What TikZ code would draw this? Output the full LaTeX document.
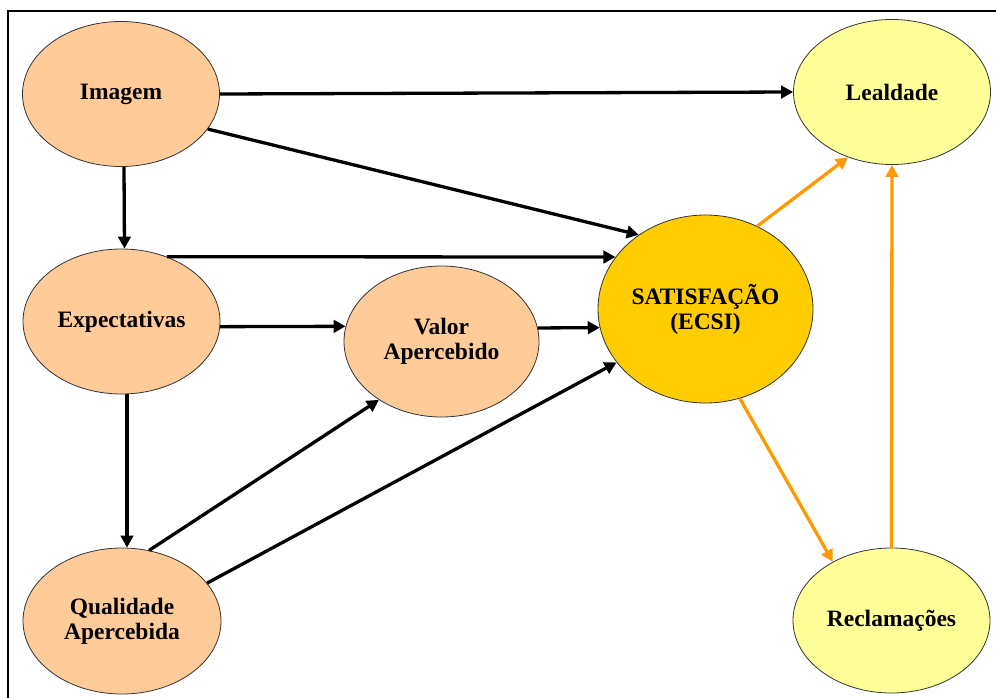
\documentclass[tikz,border=0pt]{standalone}
\usepackage{fontspec}
\setmainfont{Liberation Serif}
\usepackage{xcolor}
\usetikzlibrary{arrows.meta,shapes.geometric}
\definecolor{peach}{HTML}{FFCC99}
\definecolor{paleyellow}{HTML}{FFFF99}
\definecolor{gold}{HTML}{FFCC00}
\definecolor{flow}{HTML}{FF9900}

\begin{document}
\begin{tikzpicture}[x=1pt,y=-1pt,font=\fontsize{23.5}{25}\selectfont\bfseries,
  latent/.style={ellipse,draw=black!80,line width=0.8pt,inner sep=0pt,align=center,
    minimum width=197pt,minimum height=145pt},
  arr/.style={line width=3.3pt,-{Triangle[length=12pt,width=12.5pt]}},
  orarr/.style={arr,draw=flow}]
\useasboundingbox (0,0) rectangle (996,698);
% frame, runs off the right and bottom edges
\draw[line width=1.5pt] (8,11) rectangle (1010,712);

\node[latent,fill=peach] (imagem) at (121,94) {Imagem};
\node[latent,fill=peach] (expect) at (121.5,321.5) {Expectativas};
\node[latent,fill=peach,minimum width=198pt,minimum height=146pt] (qualid) at (122,621) {Qualidade\\Apercebida};
\node[latent,fill=peach,minimum width=195pt,minimum height=151pt] (valor) at (441.5,341.5) {Valor\\Apercebido};
\node[latent,fill=gold,minimum width=215pt,minimum height=188pt] (satisf) at (705.5,309) {SATISFAÇÃO\\(ECSI)};
\node[latent,fill=paleyellow] (lealdade) at (892,92) {Lealdade};
\node[latent,fill=paleyellow] (reclam) at (891.5,620.5) {Reclamações};

% black paths
\draw[arr] (imagem.east) -- (lealdade.west);
\draw[arr] (imagem.-22.7) -- (satisf.132);
\draw[arr] ([xshift=3pt]imagem.south) -- ([xshift=3pt]expect.north);
\draw[arr] (expect.55) -- (satisf.150);
\draw[arr] (expect.-3) -- (valor.171.4);
\draw[arr] (valor.8.6) -- (satisf.-170.3);
\draw[arr] ([xshift=5.5pt]expect.south) -- ([xshift=5pt]qualid.north);
\draw[arr] (qualid.69.7) -- (valor.-137);
\draw[arr] (qualid.24.4) -- (satisf.-149);
% orange paths
\draw[orarr] (satisf.58.5) -- (lealdade.-124.7);
\draw[orarr] (satisf.-69.2) -- (reclam.135.5);
\draw[orarr] (reclam.north) -- (lealdade.south);
\end{tikzpicture}
\end{document}
